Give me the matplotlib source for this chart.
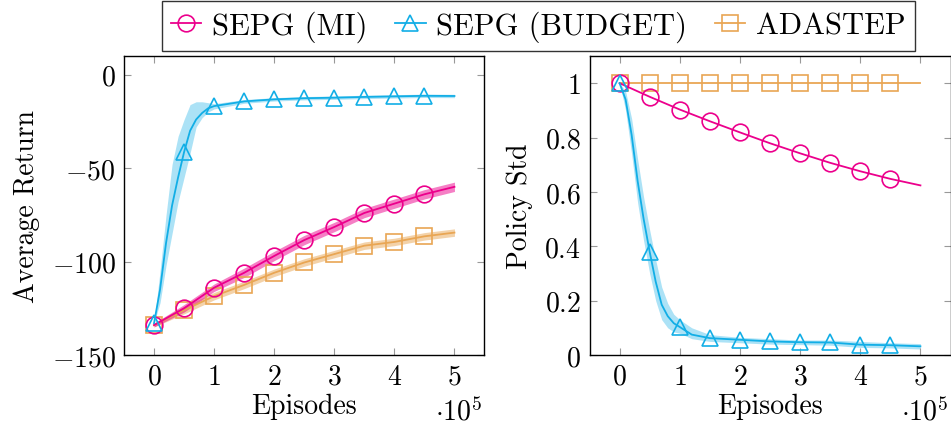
import numpy as np, matplotlib
matplotlib.use("Agg"); import matplotlib.pyplot as plt
from matplotlib.lines import Line2D

plt.rcParams["font.family"] = "serif"
plt.rcParams["font.serif"] = ["cmr10"]
plt.rcParams["mathtext.fontset"] = "cm"
plt.rcParams["axes.unicode_minus"] = False
plt.rcParams["font.size"] = 20

MAG = "#EC008C"; CYA = "#12AEE6"; ORA = "#E9A654"
labels = ["SEPG (MI)", "SEPG (BUDGET)", "ADASTEP"]
mark_x = [0, 0.5, 1, 1.5, 2, 2.5, 3, 3.5, 4, 4.5]

# ---- left panel: average return (x in 1e5 episodes)
ret_x = [0, 0.5, 1, 1.5, 2, 2.5, 3, 3.5, 4, 4.5, 5]
ret_mi = [-134, -125, -114, -106, -97, -88.5, -81.5, -74, -69, -64, -60]
ret_mi_sd = [1, 2, 2, 2.5, 2.5, 2.5, 2.5, 2.5, 2.5, 2.5, 2.5]
ret_ada = [-134, -126, -118.5, -112.5, -106, -100.5, -96, -91.5, -89.5, -86.5, -84.5]
ret_ada_sd = [1, 2, 2, 2, 2, 2, 2, 2, 2, 2, 2]
bud_x = [0, 0.1, 0.2, 0.3, 0.4, 0.5, 0.6, 0.7, 0.8, 0.9, 1.0, 1.5, 2, 2.5, 3, 3.5, 4, 4.5, 5]
bud_ret = [-133, -115, -90, -70, -55, -41.4, -30, -24, -20.5, -18, -16.8, -14.3, -13.2, -12.6, -12.3, -11.9, -11.6, -11.3, -11.4]
bud_ret_hi = [-133, -105, -75, -48, -33, -24, -16, -14.5, -14.5, -15, -15.5, -13.3, -12.3, -11.7, -11.4, -11, -10.7, -10.4, -10.5]
bud_ret_lo = [-133, -122, -102, -85, -68, -55, -42, -28, -23, -20, -18.3, -15.3, -14.1, -13.5, -13.2, -12.8, -12.5, -12.2, -12.3]

# ---- right panel: policy std
std_x = [0, 0.5, 1, 1.5, 2, 2.5, 3, 3.5, 4, 4.5, 5]
std_mi = [1.0, 0.95, 0.903, 0.86, 0.819, 0.779, 0.742, 0.707, 0.676, 0.648, 0.624]
std_ada = [1.0, 1.0, 1.0, 1.0, 1.0, 1.0, 1.0, 1.0, 1.0, 1.0, 1.0]
bs_x = [0, 0.1, 0.2, 0.3, 0.4, 0.5, 0.6, 0.7, 0.8, 0.9, 1.0, 1.2, 1.5, 2, 2.5, 3, 3.5, 4, 4.5, 5]
bs_mean = [1.0, 0.94, 0.81, 0.64, 0.50, 0.38, 0.27, 0.185, 0.143, 0.117, 0.103, 0.075, 0.062, 0.056, 0.05, 0.047, 0.046, 0.038, 0.036, 0.032]
bs_hi = [1.0, 0.97, 0.87, 0.72, 0.58, 0.46, 0.35, 0.25, 0.19, 0.15, 0.13, 0.10, 0.075, 0.065, 0.06, 0.055, 0.055, 0.05, 0.045, 0.042]
bs_lo = [1.0, 0.90, 0.74, 0.56, 0.42, 0.30, 0.20, 0.13, 0.10, 0.085, 0.08, 0.06, 0.05, 0.045, 0.04, 0.038, 0.036, 0.028, 0.026, 0.022]

def marks(xs):
    return [i for i, v in enumerate(xs) if any(abs(v - m) < 1e-9 for m in mark_x)]

fig = plt.figure(figsize=(9.51, 4.31), dpi=100)
W, H = 951, 431
def box(x0, y0, x1, y1):
    return [x0 / W, 1 - y1 / H, (x1 - x0) / W, (y1 - y0) / H]
axL = fig.add_axes(box(124, 57, 484.5, 356))
axR = fig.add_axes(box(589.5, 57, 950.5, 356))

mk = dict(mfc="none", mew=1.2, lw=1.3)
axL.fill_between(bud_x, bud_ret_lo, bud_ret_hi, color=CYA, alpha=0.35, lw=0)
axL.fill_between(ret_x, np.array(ret_ada) - ret_ada_sd, np.array(ret_ada) + ret_ada_sd, color=ORA, alpha=0.5, lw=0)
axL.fill_between(ret_x, np.array(ret_mi) - ret_mi_sd, np.array(ret_mi) + ret_mi_sd, color=MAG, alpha=0.5, lw=0)
axL.plot(ret_x, ret_ada, color=ORA, marker="s", ms=12, markevery=marks(ret_x), **mk)
axL.plot(ret_x, ret_mi, color=MAG, marker="o", ms=12, markevery=marks(ret_x), **mk)
axL.plot(bud_x, bud_ret, color=CYA, marker="^", ms=11, markevery=marks(bud_x), **mk)

axR.fill_between(bs_x, bs_lo, bs_hi, color=CYA, alpha=0.35, lw=0)
axR.plot(std_x, std_ada, color=ORA, marker="s", ms=12, markevery=marks(std_x), **mk)
axR.plot(std_x, std_mi, color=MAG, marker="o", ms=12, markevery=marks(std_x), **mk)
axR.plot(bs_x, bs_mean, color=CYA, marker="^", ms=11, markevery=marks(bs_x), **mk)

xt = [0, 1, 2, 3, 4, 5]
for ax in (axL, axR):
    ax.set_xlim(-0.5, 5.5)
    ax.set_xticks(xt, [f"${t}$" for t in xt])
    ax.tick_params(direction="in", length=5, width=0.8, color="#999999", top=True, right=True, pad=6)
    for s in ax.spines.values():
        s.set_linewidth(1.0)
    ax.set_xlabel("Episodes", labelpad=2)
    ax.text(0.995, -0.215, r"$\cdot 10^5$", transform=ax.transAxes, ha="right", va="baseline", fontsize=20)

yl = [-150, -100, -50, 0]
axL.set_ylim(-150, 10)
axL.set_yticks(yl, [f"${t}$" for t in yl])
axL.set_ylabel("Average Return", labelpad=8)
yr = [0, 0.2, 0.4, 0.6, 0.8, 1]
axR.set_ylim(0, 1.1)
axR.set_yticks(yr, [f"${t:g}$" for t in yr])
axR.set_ylabel("Policy Std", labelpad=8)

handles = [Line2D([], [], color=MAG, marker="o", ms=12, **mk),
           Line2D([], [], color=CYA, marker="^", ms=11, **mk),
           Line2D([], [], color=ORA, marker="s", ms=12, **mk)]
leg = fig.legend(handles, labels, loc="upper center", bbox_to_anchor=(0.566, 0.995), ncol=3,
                 frameon=True, fancybox=False, edgecolor="black", handlelength=1.0,
                 columnspacing=0.9, handletextpad=0.35, borderpad=0.3, borderaxespad=0.0,
                 fontsize=22)
leg.get_frame().set_linewidth(1.0)

fig.savefig("out.png", dpi=100)
